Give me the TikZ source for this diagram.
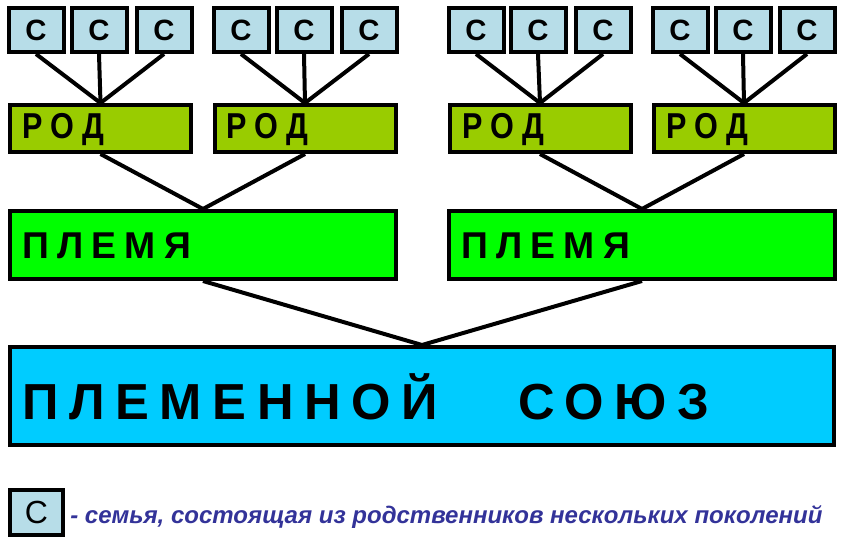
\documentclass[tikz,border=0pt]{standalone}
\usepackage{fontspec}
\setmainfont{Liberation Sans}
\definecolor{cbox}{HTML}{B7DDE8}
\definecolor{rodc}{HTML}{99CC00}
\definecolor{plc}{HTML}{00FF00}
\definecolor{unc}{HTML}{00CCFF}
\definecolor{legc}{HTML}{333399}
\tikzset{
 bx/.style={draw=black,line width=3pt,inner sep=0pt},
 cb/.style={bx,fill=cbox,minimum width=41.25pt,minimum height=33pt,font=\bfseries\fontsize{22}{22}\selectfont},
 rodb/.style={bx,fill=rodc,minimum width=135.75pt,minimum height=35.25pt},
 plb/.style={bx,fill=plc,minimum width=289.5pt,minimum height=51pt},
 unb/.style={bx,fill=unc,minimum width=618pt,minimum height=73.5pt},
 lbl/.style={anchor=west,inner sep=0pt},
 ln/.style={line width=3pt}
}
\begin{document}
\begin{tikzpicture}[x=0.75pt,y=-0.75pt]
\useasboundingbox (0,0) rectangle (847,549);
% C boxes
\foreach \n/\x in {a/36,b/99,c/164,d/241,e/304,f/369,g/476,h/538,i/603,j/680,k/743,l/807}
  \node[cb] (c\n) at (\x,30) {C};
\node[rodb] (r1) at (100.5,128.5) {};
\node[rodb] (r2) at (305,128.5) {};
\node[rodb] (r3) at (540,128.5) {};
\node[rodb] (r4) at (744,128.5) {};
\foreach \r/\x in {r1/22,r2/226,r3/462,r4/666}
  \node[lbl,font=\bfseries\fontsize{27}{27}\selectfont\addfontfeature{LetterSpace=28}] at (\x,130) {\scalebox{0.85}[1]{РОД}};
\node[plb] (p1) at (203,245) {};
\node[plb] (p2) at (642,245) {};
\foreach \x in {22,461}
  \node[lbl,font=\bfseries\fontsize{28}{28}\selectfont\addfontfeature{LetterSpace=22}] at (\x,246) {ПЛЕМЯ};
\node[unb] (u) at (422,396) {};
\node[lbl,font=\bfseries\fontsize{38}{38}\selectfont\addfontfeature{LetterSpace=21}] at (22,397) {ПЛЕМЕННОЙ\hspace{60pt}СОЮЗ};
% connectors
\foreach \s in {a,b,c} \draw[ln] (c\s.south) -- (r1.north);
\foreach \s in {d,e,f} \draw[ln] (c\s.south) -- (r2.north);
\foreach \s in {g,h,i} \draw[ln] (c\s.south) -- (r3.north);
\foreach \s in {j,k,l} \draw[ln] (c\s.south) -- (r4.north);
\draw[ln] (r1.south) -- (p1.north) -- (r2.south);
\draw[ln] (r3.south) -- (p2.north) -- (r4.south);
\draw[ln] (p1.south) -- (u.north) -- (p2.south);
% legend
\node[cb,minimum width=39.75pt,minimum height=33.75pt,font=\fontsize{24}{24}\selectfont] (leg) at (36.5,512.5) {C};
\node[lbl,text=legc,font=\bfseries\itshape\fontsize{18}{18}\selectfont] (legt) at (70,517) {- семья, состоящая из родственников нескольких поколений};
\end{tikzpicture}
\end{document}
